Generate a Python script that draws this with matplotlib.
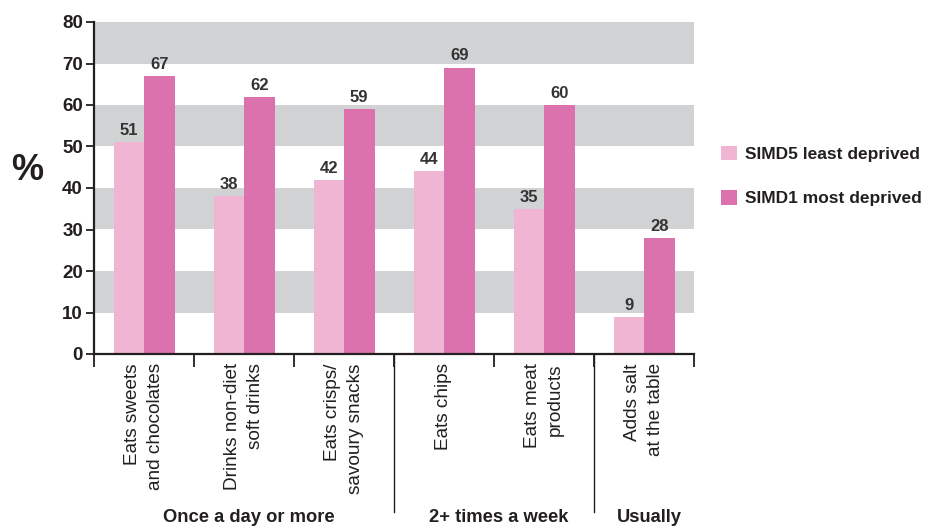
import matplotlib
matplotlib.use("Agg")
import matplotlib.pyplot as plt
import matplotlib.transforms as mtransforms
from matplotlib.patches import Patch

plt.rcParams['font.family'] = ['Liberation Sans', 'DejaVu Sans']

categories = ["Eats sweets\nand chocolates", "Drinks non-diet\nsoft drinks",
              "Eats crisps/\nsavoury snacks", "Eats chips",
              "Eats meat\nproducts", "Adds salt\nat the table"]
simd5 = [51, 38, 42, 44, 35, 9]
simd1 = [67, 62, 59, 69, 60, 28]
groups = ["Once a day or more", "2+ times a week", "Usually"]
group_spans = [(0, 2), (3, 4), (5, 5)]
series_names = ["SIMD5 least deprived", "SIMD1 most deprived"]
yticks = [0, 10, 20, 30, 40, 50, 60, 70, 80]

c_light = "#efb5d3"
c_dark = "#dc72ad"
c_band = "#d1d2d4"
c_text = "#231f20"

fig = plt.figure(figsize=(9.29, 5.28), dpi=100)
ax = fig.add_axes([94/929, 1-354/528, 600/929, 332/528])

n = len(categories)
ax.set_xlim(-0.5, n - 0.5)
ax.set_ylim(0, 80)

for lo in range(10, 80, 20):
    ax.axhspan(lo, lo + 10, color=c_band, lw=0, zorder=0)

w = 0.305
xs = list(range(n))
ax.bar([x - w/2 for x in xs], simd5, width=w, color=c_light, zorder=2, label=series_names[0])
ax.bar([x + w/2 for x in xs], simd1, width=w, color=c_dark, zorder=2, label=series_names[1])

for x, a, b in zip(xs, simd5, simd1):
    ax.text(x - w/2, a + 1.0, str(a), ha='center', va='bottom', fontsize=12,
            fontweight='bold', color="#333333")
    ax.text(x + w/2, b + 1.0, str(b), ha='center', va='bottom', fontsize=12,
            fontweight='bold', color="#333333")

for s in ['top', 'right']:
    ax.spines[s].set_visible(False)
ax.spines['left'].set_linewidth(1.6)
ax.spines['bottom'].set_linewidth(1.6)
ax.spines['left'].set_color(c_text)
ax.spines['bottom'].set_color(c_text)

ax.set_yticks(yticks)
ax.set_yticklabels([str(v) for v in yticks], fontsize=13.5, fontweight='bold', color=c_text)
ax.tick_params(axis='y', length=6, width=1.3, direction='out', pad=2, color=c_text)

ax.set_xticks([x + 0.5 for x in range(-1, n)], minor=False)
ax.set_xticklabels([])
ax.tick_params(axis='x', length=9, width=1.3, direction='out', color=c_text)

trans = mtransforms.blended_transform_factory(ax.transData, ax.transAxes)
for x, lab in zip(xs, categories):
    ax.text(x, -0.028, lab, rotation=90, ha='center', va='top', multialignment='right',
            fontsize=13.7, color=c_text, transform=trans, linespacing=1.4)

# group dividers
for d in [2.5, 4.5]:
    ax.plot([d, d], [0, -(512-354)/332], transform=trans, color=c_text, lw=1.0,
            clip_on=False)

offset = 0.05
for g, (a, b) in zip(groups, group_spans):
    ax.text((a + b) / 2 + offset, -(517-354)/332, g, ha='center', va='center', fontsize=13.2,
            fontweight='bold', color=c_text, transform=trans)

fig.text(27/929, 1-170/528, "%", fontsize=26, fontweight='bold', ha='center', va='center',
         color=c_text)

handles = [Patch(facecolor=c_light, edgecolor='none'), Patch(facecolor=c_dark, edgecolor='none')]
fig.legend(handles, series_names, loc='center left', bbox_to_anchor=(721/929, 1-176/528),
           frameon=False, prop={'weight': 'bold', 'size': 12.5}, borderpad=0,
           borderaxespad=0, handlelength=0.92, handleheight=0.92, handletextpad=0.46,
           labelspacing=1.6, labelcolor=c_text)

fig.savefig("out.png", dpi=100)
